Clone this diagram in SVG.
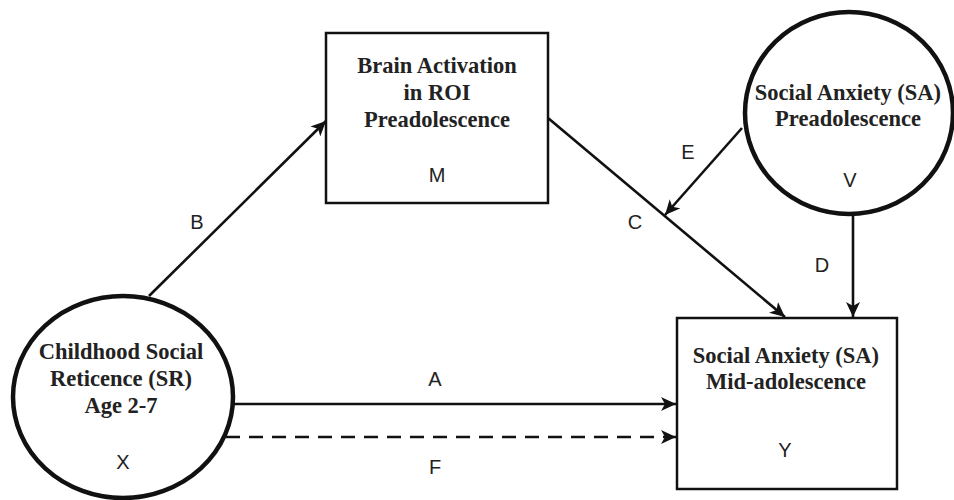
<svg xmlns="http://www.w3.org/2000/svg" width="954" height="500" viewBox="0 0 954 500">
<style>
.node{fill:#fff;stroke:#111}
.circ{stroke-width:4.5}
.box{stroke-width:2.5}
.t{font-family:"Liberation Serif","Times New Roman",serif;font-weight:bold;font-size:22.5px;fill:#222;text-anchor:middle}
.l{font-family:"Liberation Sans",Arial,sans-serif;font-size:20px;fill:#222;text-anchor:middle}
.e{stroke:#111;stroke-width:2.6;fill:none;marker-end:url(#ah)}
.d{stroke-dasharray:14 9}
</style>
<defs>
<marker id="ah" markerUnits="userSpaceOnUse" markerWidth="16" markerHeight="14" refX="15" refY="7" orient="auto">
<path d="M0,0 L15,7 L0,14 L4,7 Z" fill="#111"/>
</marker>
</defs>
<rect width="954" height="500" fill="#fff"/>
<g id="connectors">
<path class="e" d="M149,296 L326,121"/>
<path class="e" d="M548,118 L785,317"/>
<path class="e" d="M742,128 L665,215"/>
<path class="e" d="M853,215 L853,317"/>
<path class="e" d="M232,404 L676,404"/>
<path class="e d" d="M226,437 L676,437"/>
<text class="l" x="197" y="229">B</text>
<text class="l" x="635" y="229">C</text>
<text class="l" x="688" y="159">E</text>
<text class="l" x="822" y="272">D</text>
<text class="l" x="435" y="386">A</text>
<text class="l" x="435" y="474">F</text>
</g>
<g id="X">
<ellipse class="node circ" cx="123" cy="397" rx="110" ry="101"/>
<text class="t" x="121" y="359">Childhood Social</text>
<text class="t" x="121" y="386">Reticence (SR)</text>
<text class="t" x="121" y="413">Age 2-7</text>
<text class="l" x="123" y="469">X</text>
</g>
<g id="M">
<rect class="node box" x="326" y="33" width="222" height="170"/>
<text class="t" x="437" y="73">Brain Activation</text>
<text class="t" x="437" y="100">in ROI</text>
<text class="t" x="437" y="127">Preadolescence</text>
<text class="l" x="437" y="182">M</text>
</g>
<g id="V">
<ellipse class="node circ" cx="849" cy="113" rx="104" ry="101"/>
<text class="t" x="848" y="100">Social Anxiety (SA)</text>
<text class="t" x="848" y="126">Preadolescence</text>
<text class="l" x="850" y="187">V</text>
</g>
<g id="Y">
<rect class="node box" x="677" y="318" width="220" height="171"/>
<text class="t" x="786" y="363">Social Anxiety (SA)</text>
<text class="t" x="786" y="389">Mid-adolescence</text>
<text class="l" x="785" y="457">Y</text>
</g>
</svg>
